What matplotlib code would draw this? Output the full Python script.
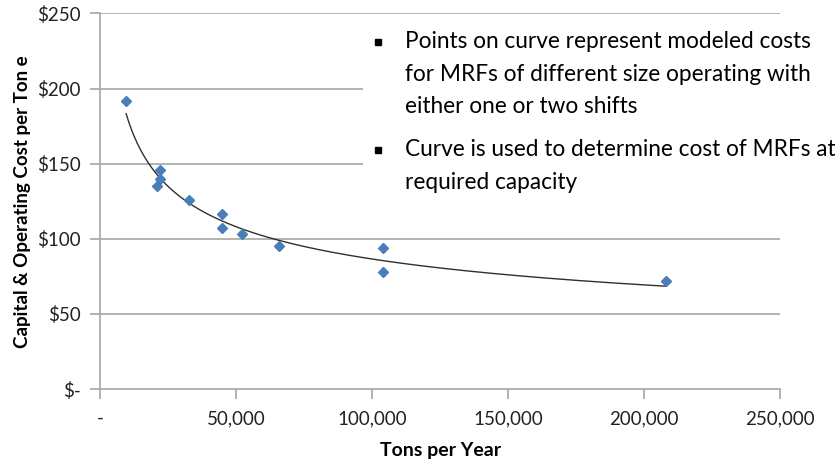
import numpy as np
import matplotlib
matplotlib.use("Agg")
import matplotlib.pyplot as plt
from matplotlib.patches import Rectangle
from matplotlib.lines import Line2D
from matplotlib.ticker import FuncFormatter

plt.rcParams['font.family'] = ['Lato', 'DejaVu Sans']

# modeled MRF costs
tons = [9600, 20800, 22000, 22000, 32700, 44700, 44700, 52000, 65600, 104000, 104000, 208000]
cost = [191.4, 135.0, 139.5, 145.7, 126.0, 116.3, 107.4, 103.4, 94.9, 93.8, 77.8, 71.7]

x_ticks = [0, 50000, 100000, 150000, 200000, 250000]
y_ticks = [0, 50, 100, 150, 200, 250]

bullets = [
    "Points on curve represent modeled costs\nfor MRFs of different size operating with\neither one or two shifts",
    "Curve is used to determine cost of MRFs at\nrequired capacity",
]

fig = plt.figure(figsize=(8.35, 4.61), dpi=100)
ax = fig.add_axes([0.1198, 0.156, 0.8146, 0.815])

grid_c = '#a6a6a6'
for yv in y_ticks[1:]:
    ax.axhline(yv, color=grid_c, lw=1.2, zorder=1)

# power trendline, like the spreadsheet one
b, a = np.polyfit(np.log(tons), np.log(cost), 1)
xs = np.linspace(min(tons), max(tons), 300)
ax.plot(xs, np.exp(a) * xs ** b, color='#303030', lw=1.0, zorder=3)

ax.plot(tons, cost, 'D', color='#4a7ebb', ms=5, zorder=4)

ax.set_xlim(0, 250000)
ax.set_ylim(0, 250)
ax.set_xticks(x_ticks)
ax.set_yticks(y_ticks)
ax.xaxis.set_major_formatter(FuncFormatter(lambda v, p: '-' if v == 0 else f'{v:,.0f}'))
ax.yaxis.set_major_formatter(FuncFormatter(lambda v, p: '$-' if v == 0 else f'${v:.0f}'))
ax.tick_params(axis='both', colors=grid_c, labelcolor='#222222', labelsize=13.5,
               length=7, width=1.2, direction='out')
ax.tick_params(axis='x', pad=8)
ax.tick_params(axis='y', pad=7)

for s in ['top', 'right']:
    ax.spines[s].set_visible(False)
for s in ['left', 'bottom']:
    ax.spines[s].set_color(grid_c)
    ax.spines[s].set_linewidth(1.2)

ax.set_xlabel('Tons per Year', fontsize=14, fontweight='bold', labelpad=11)
ax.set_ylabel('Capital & Operating Cost per Ton e', fontsize=13.5, fontweight='bold', labelpad=4)

# white note box over the upper gridlines
fig.patches.append(Rectangle((363 / 835, 1 - 205 / 461), 472 / 835, 190 / 461,
                             transform=fig.transFigure, facecolor='white', edgecolor='none', zorder=2))

for txt, ytop, ybul in zip(bullets, [31, 139], [42, 150]):
    fig.add_artist(Line2D([378 / 835], [1 - ybul / 461], marker='s', ms=4.5, color='black',
                          transform=fig.transFigure, zorder=5))
    fig.text(405 / 835, 1 - ytop / 461, txt, fontsize=16.3, ha='left', va='top',
             linespacing=1.69, color='black', zorder=5)

fig.savefig('out.png', dpi=100)
